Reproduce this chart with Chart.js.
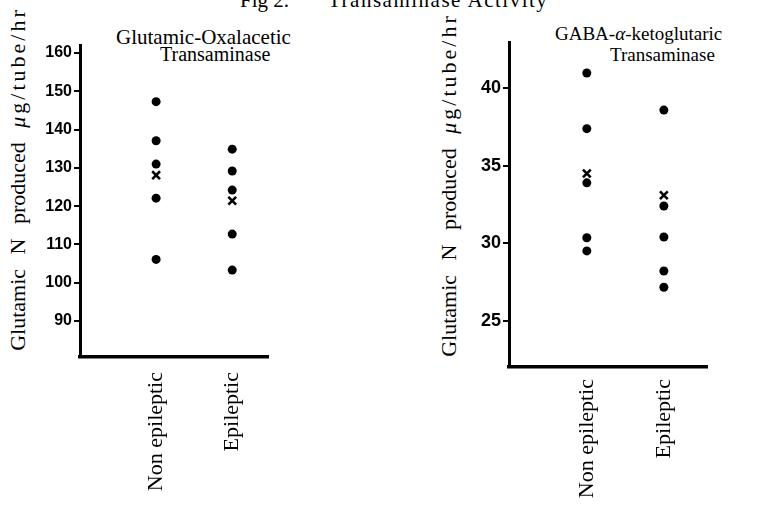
<!DOCTYPE html>
<html>
<head>
<meta charset="utf-8">
<script src="https://cdn.jsdelivr.net/npm/chart.js@4.4.1/dist/chart.umd.min.js"></script>
<style>
  body { margin: 0; background: #fff; width: 774px; height: 508px; overflow: hidden; position: relative; }
  .txt { position: absolute; font-family: "Liberation Serif", "DejaVu Serif", serif; color: #000; white-space: nowrap; }
  .ytitle { position: absolute; font-family: "Liberation Serif", "DejaVu Serif", serif; font-size: 22px; line-height: 22px;
            color: #000; white-space: nowrap; word-spacing: 9px; transform: translate(-50%, -50%) rotate(-90deg); }
  .ytitle span { letter-spacing: 3px; }
  canvas { position: absolute; top: 0; }
</style>
</head>
<body>
<div class="txt" style="left:240px; top:-10px; font-size:21px; line-height:21px;">Fig 2.</div>
<div class="txt" style="left:328px; top:-10px; font-size:21px; line-height:21px; letter-spacing:1.5px;">Transaminase Activity</div>

<div class="txt" style="left:116px; top:27px; font-size:21px; line-height:21px;">Glutamic-Oxalacetic</div>
<div class="txt" style="left:160px; top:44px; font-size:20px; line-height:20px;">Transaminase</div>
<div class="txt" style="left:555px; top:24px; font-size:19px; line-height:19px;">GABA-<i>α</i>-ketoglutaric</div>
<div class="txt" style="left:610px; top:45px; font-size:19px; line-height:19px;">Transaminase</div>

<div class="ytitle" style="left:18px; top:179px;">Glutamic N produced <span><i>μ</i>g/tube/hr</span></div>
<div class="ytitle" style="left:449px; top:185px;">Glutamic N produced <span><i>μ</i>g/tube/hr</span></div>

<canvas id="got" width="300" height="508" style="left:0;"></canvas>
<canvas id="gaba" width="344" height="508" style="left:430px;"></canvas>

<script>
const groups = ['Non epileptic', 'Epileptic'];

// Glutamic-Oxalacetic Transaminase
const gotNonEpileptic = [147.3, 137.1, 131.0, 122.1, 106.1];
const gotEpileptic = [134.9, 129.2, 124.2, 112.7, 103.3];
const gotMeans = [128.1, 121.4];
const gotTicks = [90, 100, 110, 120, 130, 140, 150, 160];

// GABA-alpha-ketoglutaric Transaminase
const gabaNonEpileptic = [41.0, 37.4, 33.9, 30.35, 29.5];
const gabaEpileptic = [38.6, 32.4, 30.4, 28.2, 27.15];
const gabaMeans = [34.5, 33.1];
const gabaTicks = [25, 30, 35, 40];

function toPoints (values, x) {
  return values.map(v => ({ x: x, y: v }))
}

function makeChart (id, nonEp, ep, means, yTicks, cfg) {
  const ctx = document.getElementById(id)
  return new Chart(ctx, {
    type: 'scatter',
    data: {
      datasets: [
        { label: 'Non epileptic', data: toPoints(nonEp, 0), pointStyle: 'circle', pointRadius: 4.5,
          backgroundColor: '#000', borderColor: '#000', borderWidth: 0 },
        { label: 'Epileptic', data: toPoints(ep, 1), pointStyle: 'circle', pointRadius: 4.5,
          backgroundColor: '#000', borderColor: '#000', borderWidth: 0 },
        { label: 'Mean', data: means.map((v, i) => ({ x: i, y: v })), pointStyle: 'crossRot', pointRadius: 5.5,
          borderColor: '#000', borderWidth: 2.6 }
      ]
    },
    options: {
      responsive: false,
      animation: false,
      layout: { padding: { top: cfg.top, right: cfg.right, left: 0, bottom: 0 } },
      plugins: { legend: { display: false }, tooltip: { enabled: false } },
      scales: {
        x: {
          type: 'linear',
          min: cfg.xMin,
          max: cfg.xMax,
          afterBuildTicks: s => { s.ticks = [{ value: 0 }, { value: 1 }] },
          afterFit: s => { s.height = cfg.xHeight },
          border: { display: true, color: '#000', width: 3.5 },
          grid: { display: false },
          ticks: {
            minRotation: 90, maxRotation: 90, padding: cfg.xPad, color: '#000',
            font: { family: '"Liberation Serif", serif', size: 22 },
            callback: v => groups[v]
          }
        },
        y: {
          min: cfg.yMin,
          max: cfg.yMax,
          afterBuildTicks: s => { s.ticks = yTicks.map(v => ({ value: v })) },
          afterFit: s => { s.width = cfg.yWidth },
          border: { display: true, color: '#000', width: 3 },
          grid: { drawOnChartArea: false, drawTicks: true, tickLength: 6, color: '#000', lineWidth: 2 },
          ticks: {
            padding: 2, color: '#000',
            font: { family: '"Liberation Sans", "DejaVu Sans", sans-serif', size: cfg.tickSize, weight: 'bold' }
          }
        }
      }
    }
  })
}

makeChart('got', gotNonEpileptic, gotEpileptic, gotMeans, gotTicks, {
  top: 45, right: 32, xHeight: 151, yWidth: 80, xPad: 7,
  xMin: -1.0, xMax: 1.47, yMin: 80.6, yMax: 162.1, tickSize: 16
})

makeChart('gaba', gabaNonEpileptic, gabaEpileptic, gabaMeans, gabaTicks, {
  top: 42, right: 67, xHeight: 141, yWidth: 79, xPad: 4,
  xMin: -1.01, xMax: 1.56, yMin: 22.0, yMax: 43.0, tickSize: 18
})
</script>
</body>
</html>
